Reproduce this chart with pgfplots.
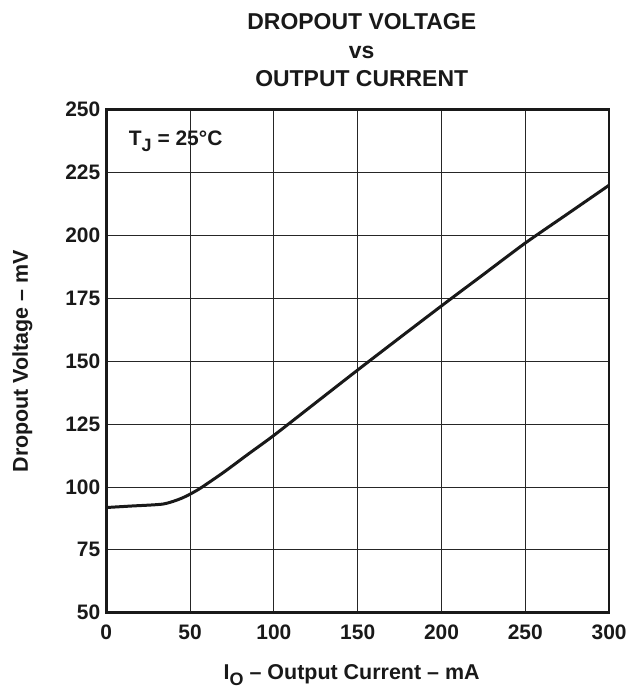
\documentclass[border=0pt]{standalone}
\usepackage{pgfplots}
\pgfplotsset{compat=1.18}
\usepackage{fontspec}
\setmainfont{Liberation Sans}
\newcommand{\sub}[1]{\raisebox{-6pt}{\fontsize{18}{18}\selectfont #1}}
\begin{document}
\begin{tikzpicture}
\begin{axis}[
  name=ax,
  scale only axis,
  width=504pt, height=504pt,
  xmin=0, xmax=300, ymin=50, ymax=250,
  xtick={0,50,...,300}, ytick={50,75,...,250},
  grid=major,
  grid style={black!85, line width=0.8pt},
  axis line style={black!90, line width=2.6pt},
  major tick length=0pt,
  /pgf/number format/assume math mode=true,
  tick label style={font=\fontsize{21}{24}\selectfont\bfseries, text=black!90},
  xticklabel style={yshift=-8.5pt},
  yticklabel style={xshift=-2.5pt},
  xlabel={\textbf{I\sub{O} -- Output Current -- mA}},
  ylabel={\textbf{Dropout Voltage -- mV}},
  label style={font=\fontsize{21.5}{24}\selectfont, text=black!90},
  xlabel style={at={(axis description cs:0.488,-0.133)}, anchor=base},
  ylabel style={at={(axis description cs:-0.167,0.5)}, anchor=center},
  title={\textbf{DROPOUT VOLTAGE}\\\textbf{vs}\\\textbf{OUTPUT CURRENT}},
  title style={font=\fontsize{23}{28.5}\selectfont, align=center, text=black!90,
    at={(axis description cs:0.508,1.033)}, anchor=south, inner sep=0pt},
]
\addplot[black!90, line width=3pt, smooth, tension=0.4] coordinates {
(0,91.8) (15,92.4) (34,93.2) (45,95.5) (55,99) (70,105.8) (85,113.2) (100,120.5)
(125,133.5) (150,146.5) (175,159.3) (200,172) (225,184.5) (250,197) (275,208.5) (300,220)
};
\node[anchor=base west, inner sep=0pt, text=black!90, font=\fontsize{21}{24}\selectfont\bfseries] at (axis cs:13.4,235.6) {T\sub{J} = 25\textdegree C};
\end{axis}
\path (ax.south west) ++(-106.5pt,-75pt) rectangle ++(632pt,689pt);
\end{tikzpicture}
\end{document}
